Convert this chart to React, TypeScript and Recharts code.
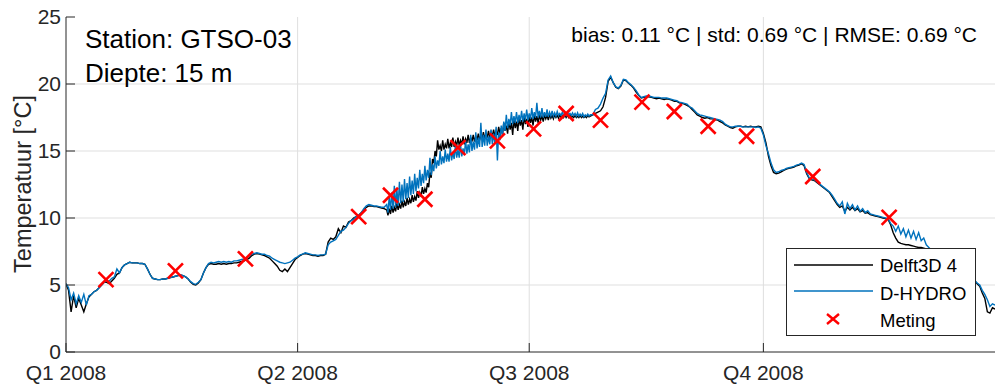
import React from 'react';
import {
  ComposedChart,
  Line,
  Scatter,
  XAxis,
  YAxis,
  CartesianGrid,
  Legend,
  Customized,
} from 'recharts';

// ---- Data (daily values, day 0 = 1 Jan 2008) ----
const dhydroQ1 = [
  5.1, 4.8, 3.9, 4.4, 3.6, 4.2, 3.7, 4.3, 3.5, 4.2,
  4.3, 4.5, 4.6, 4.8, 5.0, 5.2, 5.3, 5.3, 5.5, 5.6,
  6.2, 5.9, 6.3, 6.5, 6.6, 6.7, 6.65, 6.65, 6.65, 6.6,
  6.6, 6.55, 6.2, 5.8, 5.5, 5.45, 5.4, 5.4, 5.45, 5.45,
  5.5, 5.55, 5.6, 5.65, 5.7, 5.75, 5.7, 5.6, 5.45, 5.25,
  5.1, 5.05, 5.2, 5.4, 5.9, 6.3, 6.6, 6.7, 6.65, 6.7,
  6.75, 6.7, 6.75, 6.7, 6.75, 6.7, 6.8, 6.8, 6.85, 6.9,
  6.95, 7.05, 7.15, 7.3, 7.35, 7.4, 7.35, 7.3, 7.3, 7.2,
  7.15, 7.0, 6.9, 6.8, 6.7, 6.65, 6.6, 6.65, 6.7, 6.85,
  7.0,
];
const dhydroQ2 = [
  7.1, 7.25, 7.3, 7.4, 7.35, 7.3, 7.25, 7.25, 7.2, 7.25,
  7.25, 7.3, 8.0, 8.2, 8.3, 8.4, 8.7, 9.0, 9.1, 9.3,
  9.6, 9.8, 9.9, 10.1, 10.2, 10.4, 10.7, 10.9, 11.0, 10.95,
  10.9, 10.9, 10.85, 10.8, 10.8, 11.0, 11.6, 11.9, 12.4, 12.2,
  12.7, 12.5, 12.9, 12.6, 13.1, 12.8, 13.3, 13.0, 13.6, 13.3,
  13.9, 13.6, 14.5, 14.0, 14.6, 14.3, 15.0, 14.6, 15.1, 14.8,
  15.3, 14.9, 15.4, 15.1, 15.5, 15.2, 15.8, 15.5, 16.2, 15.7,
  16.4, 16.0, 17.1, 16.2, 16.6, 16.1, 16.6, 16.3, 16.8, 16.4,
  16.9, 17.2, 17.7, 17.4, 17.9, 17.6, 17.9, 17.7, 18.0, 17.8,
  18.1,
];
const dhydroQ3 = [
  17.8, 18.2, 17.9, 18.6, 18.0, 18.2, 17.9, 18.1, 17.9, 18.0,
  17.85, 17.95, 17.8, 17.9, 17.85, 17.9, 17.8, 17.85, 17.8, 17.85,
  17.75, 17.8, 17.7, 17.75, 17.7, 17.7, 18.1, 18.2, 18.5, 18.95,
  19.3, 20.3, 20.6, 20.1, 19.8, 19.7, 19.9, 20.35, 20.3, 20.1,
  19.95, 19.75, 19.5, 19.2, 19.0, 19.05, 19.1, 19.1, 19.05, 19.0,
  19.0, 19.0, 18.95, 18.95, 18.95, 18.9, 18.85, 18.8, 18.75, 18.65,
  18.6, 18.55, 18.5, 18.3, 18.2, 18.0, 17.8, 17.7, 17.65, 17.6,
  17.55, 17.5, 17.45, 17.4, 17.35, 17.3, 17.2, 17.0, 16.9, 16.8,
  16.8, 16.85, 16.85, 16.85, 16.8, 16.8, 16.8, 16.8, 16.8, 16.75,
  16.8, 16.7,
];
const dhydroQ4 = [
  16.2, 15.4, 14.8, 14.1, 13.6, 13.4, 13.45, 13.55, 13.6, 13.7,
  13.75, 13.8, 13.85, 13.95, 14.0, 14.1, 14.0, 13.4, 13.0, 12.9,
  12.85, 12.7, 12.55, 12.4, 12.25, 12.1, 11.95, 11.7, 11.4, 11.1,
  10.9, 11.2, 10.3, 11.1, 10.7, 11.0, 10.6, 10.9, 10.5, 10.7,
  10.4, 10.55, 10.3, 10.25, 10.2, 10.15, 10.1, 10.05, 10.0, 9.95,
  9.6, 9.4, 9.0, 9.4, 8.8, 9.2, 8.6, 9.1, 8.5, 9.0,
  8.4, 8.9, 8.3, 8.5, 8.0, 7.8, 7.6, 7.5, 7.3, 7.2,
  7.0, 6.9, 6.8, 6.6, 6.5, 6.4, 6.2, 6.1, 6.0, 5.8,
  5.7, 5.6, 5.5, 5.35, 5.15, 5.0, 4.6, 4.3, 3.9, 3.4,
  3.6, 3.5,
];
// extra half-day samples (day 126.5 ... 205.5) in the noisy summer stretch
const dhydroHalfDays = [
  10.4, 10.6, 10.7, 10.8, 10.9, 11.1, 11.2, 11.4, 11.5, 11.7,
  11.8, 12.0, 12.2, 12.4, 12.6, 12.8, 13.0, 13.2, 13.5, 13.7,
  13.9, 14.0, 14.1, 14.2, 14.2, 14.3, 14.4, 14.5, 14.5, 14.6,
  14.7, 14.8, 14.9, 15.0, 15.1, 15.2, 15.3, 15.3, 15.4, 15.4,
  15.5, 15.5, 15.6, 14.3, 15.8, 16.2, 16.5, 16.7, 16.9, 17.0,
  17.1, 17.1, 17.2, 17.2, 17.3, 17.3, 17.4, 17.4, 17.5, 17.5,
  17.5, 17.5, 17.55, 17.55, 17.6, 17.6, 17.6, 17.65, 17.65, 17.65,
  17.65, 17.7, 17.65, 17.65, 17.6, 17.6, 17.6, 17.55, 17.6, 17.6,
];

const delft3dQ1 = [
  5.1, 4.6, 3.0, 4.2, 3.3, 4.0, 3.5, 3.0, 3.6, 4.1,
  4.3, 4.5, 4.6, 4.8, 5.0, 5.2, 5.2, 5.1, 5.3, 5.5,
  5.8, 5.9, 6.3, 6.5, 6.6, 6.7, 6.65, 6.65, 6.65, 6.6,
  6.6, 6.55, 6.2, 5.8, 5.5, 5.45, 5.4, 5.4, 5.45, 5.45,
  5.5, 5.55, 5.6, 5.65, 5.7, 5.75, 5.7, 5.6, 5.45, 5.2,
  5.05, 5.0, 5.15, 5.4, 5.9, 6.3, 6.55, 6.6, 6.55, 6.55,
  6.6, 6.55, 6.6, 6.55, 6.6, 6.6, 6.65, 6.65, 6.7, 6.75,
  6.8, 6.9, 7.0, 7.2, 7.3, 7.35, 7.3, 7.25, 7.2, 7.1,
  7.0, 6.8, 6.6, 6.4, 6.1, 6.0, 6.2, 6.0, 6.3, 6.6,
  6.9,
];
const delft3dQ2 = [
  7.05, 7.2, 7.3, 7.35, 7.3, 7.25, 7.2, 7.2, 7.15, 7.2,
  7.2, 7.3, 8.2, 8.5, 8.4, 8.6, 9.2, 8.9, 9.4, 9.3,
  9.7, 9.8, 10.0, 10.1, 10.2, 10.4, 10.6, 10.8, 10.9, 10.9,
  10.85, 10.85, 10.8, 10.75, 10.7, 10.6, 10.7, 10.9, 10.8, 11.1,
  11.0, 11.3, 11.2, 11.5, 11.4, 11.7, 11.6, 12.0, 11.9, 12.3,
  12.2, 12.6, 13.4, 14.4, 15.0, 15.8, 15.4, 15.8, 15.5, 15.9,
  15.6, 16.0, 15.7, 16.0, 15.8, 16.1, 15.9, 16.2, 16.0, 16.2,
  16.1, 16.3, 16.2, 16.4, 16.3, 16.5, 16.4, 16.6, 16.5, 16.8,
  16.7, 17.1, 16.9, 17.3, 17.1, 17.4, 17.2, 17.5, 17.3, 17.6,
  17.4,
];
const delft3dQ3 = [
  17.6, 17.5, 17.7, 17.6, 17.7, 17.6, 17.7, 17.65, 17.7, 17.65,
  17.7, 17.65, 17.7, 17.65, 17.7, 17.65, 17.7, 17.6, 17.65, 17.6,
  17.65, 17.6, 17.6, 17.65, 17.6, 17.7, 17.8, 17.9, 18.0, 18.3,
  19.0, 20.2, 20.5, 20.1, 19.75, 19.65, 19.85, 20.3, 20.25, 20.05,
  19.9, 19.7, 19.4, 19.15, 18.95, 19.0, 19.05, 19.05, 19.0, 18.95,
  18.9, 18.95, 18.9, 18.85, 18.9, 18.85, 18.8, 18.7, 18.7, 18.6,
  18.55, 18.5, 18.4, 18.3, 18.1, 17.9, 17.7, 17.6, 17.5, 17.45,
  17.5, 17.4, 17.4, 17.35, 17.3, 17.2, 17.1, 16.95, 16.85, 16.75,
  16.7, 16.8, 16.85, 16.85, 16.8, 16.85, 16.8, 16.85, 16.8, 16.8,
  16.85, 16.8,
];
const delft3dQ4 = [
  16.3, 15.6, 14.6, 13.9, 13.4, 13.3, 13.35, 13.45, 13.55, 13.65,
  13.7, 13.75, 13.8, 13.9, 13.95, 14.05, 13.9, 13.3, 12.95, 12.85,
  12.8, 12.65, 12.5, 12.35, 12.2, 12.05, 11.9, 11.6, 11.3, 11.0,
  10.8, 10.9, 10.5, 10.8, 10.6, 10.8, 10.55, 10.7, 10.45, 10.55,
  10.35, 10.4, 10.25, 10.2, 10.15, 10.1, 10.05, 10.0, 9.95, 9.9,
  9.5, 8.9, 8.5, 8.2, 8.1, 8.05, 8.0, 8.0, 7.95, 7.9,
  7.85, 7.8, 7.8, 7.75, 7.7, 7.6, 7.5, 7.4, 7.2, 7.1,
  6.9, 6.8, 6.7, 6.5, 6.4, 6.3, 6.1, 6.0, 5.9, 5.7,
  5.6, 5.5, 5.4, 5.3, 5.1, 4.9, 4.4, 4.0, 3.0, 2.9,
  3.3, 3.2,
];
const delft3dHalfDays = [
  10.2, 10.3, 10.4, 10.5, 10.6, 10.7, 10.8, 10.9, 11.0, 11.1,
  11.2, 11.3, 11.5, 11.6, 11.8, 11.9, 12.3, 13.0, 14.1, 14.6,
  15.1, 15.0, 15.1, 15.2, 15.2, 15.3, 15.3, 15.4, 15.4, 15.5,
  15.5, 15.6, 15.6, 15.7, 15.7, 15.8, 15.8, 15.9, 15.9, 16.0,
  16.0, 16.1, 16.1, 16.2, 16.3, 16.2, 16.5, 16.3, 16.6, 16.2,
  16.7, 16.5, 16.9, 16.6, 17.0, 16.8, 17.1, 16.9, 17.2, 17.1,
  17.3, 17.2, 17.4, 17.3, 17.45, 17.4, 17.5, 17.45, 17.5, 17.5,
  17.5, 17.5, 17.5, 17.5, 17.5, 17.5, 17.5, 17.5, 17.5, 17.55,
];
const halfDayStart = 126.5;

const metingDays = [15.7, 43, 70.5, 115, 127.5, 141, 154, 169.5, 183.7, 196.5, 210, 226.3, 239, 252.3, 267.4, 293.4, 323.4];
const metingValues = [5.4, 6.05, 6.95, 10.1, 11.7, 11.4, 15.25, 15.75, 16.65, 17.8, 17.3, 18.65, 17.95, 16.85, 16.1, 13.1, 10.05];

const quarterTicks = [0, 91, 182, 274];
const quarterLabels = ['Q1 2008', 'Q2 2008', 'Q3 2008', 'Q4 2008'];
const tempTicks = [0, 5, 10, 15, 20, 25];
const seriesNames = ['Delft3D 4', 'D-HYDRO', 'Meting'];
const stationLines = ['Station: GTSO-03', 'Diepte: 15 m'];
const statsText = 'bias: 0.11 °C | std: 0.69 °C | RMSE: 0.69 °C';
const yLabel = 'Temperatuur [°C]';

// ---- Derived tables ----
const delft3d = [...delft3dQ1, ...delft3dQ2, ...delft3dQ3, ...delft3dQ4];
const dhydro = [...dhydroQ1, ...dhydroQ2, ...dhydroQ3, ...dhydroQ4];
const dailyRows = dhydro.map((v, i) => ({ day: i, dhydro: v, delft3d: delft3d[i] }));
const halfRows = dhydroHalfDays.map((v, i) => ({
  day: halfDayStart + i,
  dhydro: v,
  delft3d: delft3dHalfDays[i],
}));
const tableData = [...dailyRows, ...halfRows].sort((a, b) => a.day - b.day);
const metingData = metingDays.map((d, i) => ({ day: d, meting: metingValues[i] }));

const FONT = '"Liberation Sans", Arial, Helvetica, sans-serif';
const AXIS = '#262626';
const GRID = '#dfdfdf';
const BLUE = '#0072BD';
const RED = '#FF0000';

const CrossShape = (props: any) => {
  const { cx, cy } = props;
  if (cx == null || cy == null) return null;
  const h = 7.5;
  return (
    <g>
      <line x1={cx - h} y1={cy - h} x2={cx + h} y2={cy + h} stroke={RED} strokeWidth={2.6} />
      <line x1={cx - h} y1={cy + h} x2={cx + h} y2={cy - h} stroke={RED} strokeWidth={2.6} />
    </g>
  );
};

const LegendBox = () => (
  <svg width={190} height={88} style={{ display: 'block' }}>
    <rect x={0.5} y={0.5} width={189} height={87} fill="#ffffff" stroke={AXIS} strokeWidth={1} />
    <line x1={8} x2={87} y1={17} y2={17} stroke="#000000" strokeWidth={1.3} />
    <line x1={8} x2={87} y1={43} y2={43} stroke={BLUE} strokeWidth={1.3} />
    <line x1={41} y1={66} x2={53} y2={76} stroke={RED} strokeWidth={2.4} />
    <line x1={41} y1={76} x2={53} y2={66} stroke={RED} strokeWidth={2.4} />
    <text x={94} y={24} fontFamily={FONT} fontSize={18.5} fill="#000">{seriesNames[0]}</text>
    <text x={94} y={51.5} fontFamily={FONT} fontSize={18.5} fill="#000">{seriesNames[1]}</text>
    <text x={94} y={79} fontFamily={FONT} fontSize={18.5} fill="#000">{seriesNames[2]}</text>
  </svg>
);

const Annotations = () => (
  <g fontFamily={FONT}>
    <text x={85} y={47.5} fontSize={26} fill="#000">{stationLines[0]}</text>
    <text x={85} y={81.5} fontSize={26} fill="#000">{stationLines[1]}</text>
    <text x={977} y={41.5} fontSize={21} textAnchor="end" fill="#000">{statsText}</text>
    <text transform="translate(31,184) rotate(-90)" textAnchor="middle" fontSize={23.5} fill={AXIS}>
      {yLabel}
    </text>
  </g>
);

export default function App() {
  return (
    <div
      style={{
        position: 'absolute',
        left: 0,
        top: 0,
        width: 995,
        height: 387,
        overflow: 'hidden',
        background: '#ffffff',
      }}
    >
      <ComposedChart
        width={995}
        height={387}
        data={tableData}
        margin={{ top: 17, right: 0, bottom: 0, left: 0 }}
        style={{ fontFamily: FONT }}
      >
        <CartesianGrid
          stroke={GRID}
          strokeWidth={1}
          horizontalValues={tempTicks.slice(1, -1)}
          verticalValues={quarterTicks.slice(1)}
        />
        <XAxis
          dataKey="day"
          type="number"
          domain={[0, 365]}
          ticks={quarterTicks}
          interval={0}
          allowDataOverflow
          tickFormatter={(v: number) => quarterLabels[quarterTicks.indexOf(v)] ?? ''}
          height={35}
          tickSize={-9}
          tickMargin={22}
          stroke={AXIS}
          tick={{ fill: AXIS, fontSize: 21, fontFamily: FONT }}
        />
        <XAxis
          xAxisId="top"
          orientation="top"
          dataKey="day"
          type="number"
          domain={[0, 365]}
          ticks={quarterTicks}
          interval={0}
          allowDataOverflow
          tickFormatter={() => ''}
          height={0}
          tickSize={-9}
          stroke={AXIS}
        />
        <YAxis
          type="number"
          domain={[0, 25]}
          ticks={tempTicks}
          interval={0}
          allowDataOverflow
          width={66}
          tickSize={-9}
          tickMargin={14}
          stroke={AXIS}
          tick={{ fill: AXIS, fontSize: 21, fontFamily: FONT }}
        />
        <YAxis
          yAxisId="right"
          orientation="right"
          type="number"
          domain={[0, 25]}
          ticks={tempTicks}
          interval={0}
          allowDataOverflow
          width={0}
          tickSize={-9}
          tickFormatter={() => ''}
          stroke={AXIS}
        />
        <Line
          type="linear"
          dataKey="delft3d"
          name={seriesNames[0]}
          stroke="#000000"
          strokeWidth={1.4}
          dot={false}
          activeDot={false}
          isAnimationActive={false}
        />
        <Line
          type="linear"
          dataKey="dhydro"
          name={seriesNames[1]}
          stroke={BLUE}
          strokeWidth={1.4}
          dot={false}
          activeDot={false}
          isAnimationActive={false}
        />
        <Scatter
          data={metingData}
          dataKey="meting"
          name={seriesNames[2]}
          fill={RED}
          shape={CrossShape}
          isAnimationActive={false}
        />
        <Customized component={Annotations} />
        <Legend
          layout="vertical"
          align="center"
          verticalAlign="middle"
          wrapperStyle={{ left: 786, top: 248, width: 190, height: 88 }}
          content={LegendBox}
        />
      </ComposedChart>
    </div>
  );
}
